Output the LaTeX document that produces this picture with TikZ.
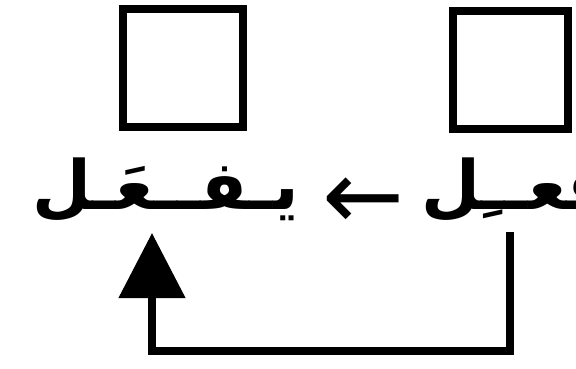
\documentclass[tikz,border=0pt]{standalone}
\usepackage{fontspec}
\usetikzlibrary{arrows.meta}
\newfontfamily\arabicfont[Script=Arabic]{DejaVu Sans}
\newfontfamily\arrowfont{DejaVu Sans}
\TeXXeTstate=1
\tikzset{
  frame/.style={draw=black, line width=8pt, line join=miter},
  arword/.style={inner sep=0pt, outer sep=0pt, font=\arabicfont\bfseries\fontsize{68}{80}\selectfont},
  arrowchar/.style={inner sep=0pt, outer sep=0pt, font=\arrowfont\fontsize{98}{106}\selectfont},
  conn/.style={draw=black, line width=8pt, line join=miter, -{Triangle[width=65pt,length=65pt]}}
}
\begin{document}
\begin{tikzpicture}[x=1pt,y=-1pt]
\useasboundingbox (0,0) rectangle (576,369);
\clip (0,0) rectangle (576,369);
\draw[frame] (123,9) rectangle (243,127);
\draw[frame] (453,11) rectangle (568,129);
\node[arword, anchor=base west] (w2) at (32,209) {\beginR يـفــعَـل\endR};
\node[arword, anchor=base west] (w1) at (421,209) {\beginR فعــِل\endR};
\node[arrowchar, anchor=center] (ar) at (364,204) {←};
\coordinate (s) at (510,232);
\coordinate (t) at (152,233);
\draw[conn] (s) |- (t |- 0,351) -- (t);
\end{tikzpicture}
\end{document}
